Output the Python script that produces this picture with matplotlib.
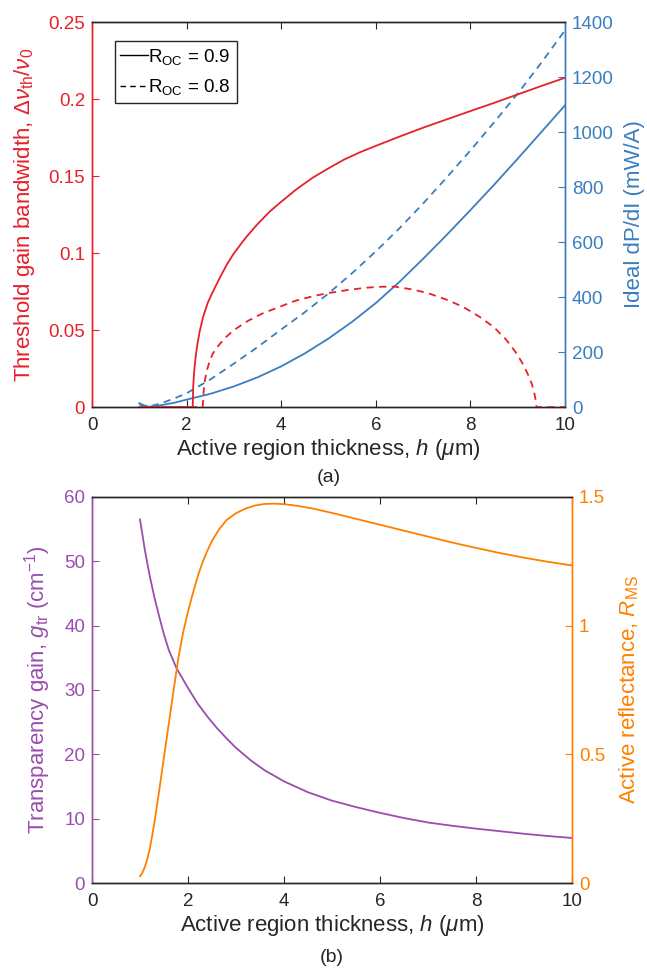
import matplotlib
matplotlib.use("Agg")
import matplotlib.pyplot as plt
from matplotlib.lines import Line2D

plt.rcParams['font.family'] = ['Liberation Sans', 'DejaVu Sans']
plt.rcParams['mathtext.fontset'] = 'custom'
plt.rcParams['mathtext.rm'] = 'Liberation Sans'
plt.rcParams['mathtext.it'] = 'Liberation Sans:italic'
plt.rcParams['font.size'] = 13.5
LABEL_SIZE = 16

RED = '#e8202a'
BLUE = '#3a7ebf'
PURPLE = '#9a4dad'
ORANGE = '#ff8000'
DARK = '#262626'

# (a) threshold gain bandwidth, R_OC = 0.9
h_bw09 = [1.0, 2.13, 2.14, 2.16, 2.19, 2.23, 2.28, 2.35, 2.45, 2.55, 2.7, 2.85, 3.0, 3.25,
          3.5, 3.75, 4.0, 4.33, 4.67, 5.0, 5.33, 5.67, 6.0, 6.5, 7.0, 7.5, 8.0, 8.5, 9.0,
          9.5, 10.0]
bw09 = [0, 0, 0.0135, 0.0232, 0.0323, 0.0411, 0.0496, 0.0586, 0.0679, 0.0745, 0.0838,
        0.0925, 0.0998, 0.1100, 0.1188, 0.1267, 0.1333, 0.1416, 0.1490, 0.1550, 0.1607,
        0.1655, 0.1696, 0.1756, 0.1814, 0.1868, 0.1922, 0.1975, 0.2030, 0.2085, 0.2138]

# (a) threshold gain bandwidth, R_OC = 0.8
h_bw08 = [1.0, 2.34, 2.36, 2.39, 2.43, 2.48, 2.55, 2.65, 2.8, 3.0, 3.3, 3.6, 4.0, 4.3, 4.7,
          5.0, 5.4, 5.8, 6.1, 6.4, 6.8, 7.1, 7.5, 7.85, 8.2, 8.5, 8.75, 8.95, 9.1, 9.22,
          9.3, 9.35, 9.38, 9.4, 10.0]
bw08 = [0, 0, 0.010, 0.018, 0.024, 0.029, 0.0345, 0.039, 0.0445, 0.0500, 0.0560, 0.0607,
        0.0655, 0.0690, 0.0722, 0.0740, 0.0760, 0.0775, 0.0781, 0.0782, 0.0762, 0.0740,
        0.0697, 0.0650, 0.0585, 0.0518, 0.0440, 0.0360, 0.0285, 0.0210, 0.0150, 0.0095,
        0.0045, 0, 0]

# (a) ideal dP/dI
h_dp = [1.0, 1.1, 1.2, 1.3, 1.5, 1.75, 2.0, 2.5, 3.0, 3.5, 4.0, 4.5, 5.0, 5.5, 6.0, 6.5,
        7.0, 7.5, 8.0, 8.5, 9.0, 9.5, 10.0]
dp09 = [14, 6, 1, 2, 8, 16, 27, 48, 75, 108, 148, 195, 249, 310, 378, 455, 539, 626,
        716, 808, 903, 1000, 1097]
dp08 = [10, 4, 2, 6, 16, 32, 50, 100, 158, 218, 282, 345, 413, 487, 566, 650, 740, 835,
        933, 1035, 1140, 1252, 1370]

# (b) transparency gain and active reflectance
h_g = [1.0, 1.1, 1.2, 1.3, 1.4, 1.5, 1.6, 1.76, 1.9, 2.0, 2.2, 2.4, 2.6, 2.8, 3.0, 3.3,
       3.6, 4.0, 4.5, 5.0, 5.5, 6.0, 6.5, 7.0, 7.5, 8.0, 8.5, 9.0, 9.5, 10.0]
g_tr = [56.5, 51.8, 47.8, 44.4, 41.4, 38.6, 36.2, 33.4, 31.6, 30.3, 27.9, 25.9, 24.1,
        22.5, 21.0, 19.1, 17.5, 15.8, 14.1, 12.8, 11.8, 10.9, 10.1, 9.4, 8.9, 8.45, 8.05,
        7.65, 7.3, 7.0]
h_r = [1.0, 1.05, 1.1, 1.15, 1.2, 1.25, 1.3, 1.4, 1.5, 1.6, 1.7, 1.8, 1.9, 2.0, 2.1, 2.2,
       2.3, 2.4, 2.5, 2.65, 2.8, 3.0, 3.2, 3.4, 3.6, 3.8, 4.0, 4.3, 4.6, 5.0, 5.5, 6.0,
       6.5, 7.0, 7.5, 8.0, 8.5, 9.0, 9.5, 10.0]
r_ms = [0.026, 0.04, 0.062, 0.092, 0.13, 0.18, 0.235, 0.36, 0.49, 0.62, 0.75, 0.875,
        0.975, 1.055, 1.125, 1.19, 1.245, 1.29, 1.33, 1.375, 1.41, 1.437, 1.455, 1.467,
        1.473, 1.474, 1.472, 1.465, 1.455, 1.438, 1.415, 1.392, 1.369, 1.346, 1.323,
        1.302, 1.282, 1.264, 1.248, 1.234]


def style_axes(ax, ax2, lcol, rcol):
    for a in (ax, ax2):
        for s in ('top', 'bottom'):
            a.spines[s].set_color(DARK)
        a.spines['left'].set_color(lcol)
        a.spines['right'].set_color(rcol)
        for s in a.spines.values():
            s.set_linewidth(1.0)
    ax.tick_params(axis='x', direction='in', top=True, length=5, colors=DARK, pad=7)
    ax.tick_params(axis='y', direction='in', length=5, colors=lcol, right=False, pad=5)
    ax2.tick_params(axis='y', direction='in', length=5, colors=rcol, pad=5)
    ax.set_xlim(0, 10)
    ax.set_xticks(range(0, 11, 2))
    ax.set_xlabel(r'Active region thickness, $h$ ($\mu$m)', color=DARK, labelpad=2,
                  fontsize=LABEL_SIZE)


fig = plt.figure(figsize=(6.47, 9.68), dpi=100)

# ---- (a)
ax = fig.add_axes([0.1422, 0.5795, 0.731, 0.3977])
ax2 = ax.twinx()
ax.plot(h_bw09, bw09, color=RED, lw=1.3, zorder=3)
ax.plot(h_bw08, bw08, color=RED, lw=1.3, ls=(0, (4, 3)), zorder=3)
ax2.plot(h_dp, dp09, color=BLUE, lw=1.3)
ax2.plot(h_dp, dp08, color=BLUE, lw=1.3, ls=(0, (4, 3)))
ax.set_zorder(ax2.get_zorder() + 1)
ax.patch.set_visible(False)
ax.set_ylim(0, 0.25)
ax.set_yticks([0, 0.05, 0.1, 0.15, 0.2, 0.25])
ax.set_yticklabels(['0', '0.05', '0.1', '0.15', '0.2', '0.25'])
ax2.set_ylim(0, 1400)
ax2.set_yticks(range(0, 1401, 200))
style_axes(ax, ax2, RED, BLUE)
ax.set_ylabel(r'Threshold gain bandwidth, $\Delta\nu_{\rm th}/\nu_0$', color=RED,
              labelpad=8, fontsize=LABEL_SIZE)
ax2.set_ylabel('Ideal dP/dI (mW/A)', color=BLUE, labelpad=7, fontsize=LABEL_SIZE)

# legend only shows line style, in black
handles = [Line2D([0], [0], color='k', lw=1.0),
           Line2D([0], [0], color='k', lw=1.0, ls=(0, (4, 3)))]
leg = ax.legend(handles, [r'R$_{\rm OC}$ = 0.9', r'R$_{\rm OC}$ = 0.8'],
                loc='upper left', bbox_to_anchor=(0.048, 0.95), fancybox=False,
                edgecolor=DARK, framealpha=1, handlelength=1.45, handletextpad=0.05,
                borderpad=0.3, borderaxespad=0, labelspacing=0.55, fontsize=13.5)
leg.get_frame().set_linewidth(1.0)
fig.text(0.5078, 1 - 478 / 968, '(a)', ha='center', va='center', color=DARK,
         fontsize=14)

# ---- (b)
bx = fig.add_axes([0.1422, 0.0878, 0.742, 0.3988])
bx2 = bx.twinx()
bx.plot(h_g, g_tr, color=PURPLE, lw=1.3)
bx2.plot(h_r, r_ms, color=ORANGE, lw=1.3)
bx.set_ylim(0, 60)
bx.set_yticks(range(0, 61, 10))
bx2.set_ylim(0, 1.5)
bx2.set_yticks([0, 0.5, 1, 1.5])
bx2.set_yticklabels(['0', '0.5', '1', '1.5'])
style_axes(bx, bx2, PURPLE, ORANGE)
bx.set_ylabel(r'Transparency gain, $g_{\rm tr}$ (cm$^{-1}$)', color=PURPLE, labelpad=8,
              fontsize=LABEL_SIZE)
bx2.set_ylabel(r'Active reflectance, $R_{\rm MS}$', color=ORANGE, labelpad=9,
               fontsize=LABEL_SIZE)
fig.text(0.5131, 1 - 958 / 968, '(b)', ha='center', va='center', color=DARK,
         fontsize=14)

fig.savefig('out.png', dpi=100)
